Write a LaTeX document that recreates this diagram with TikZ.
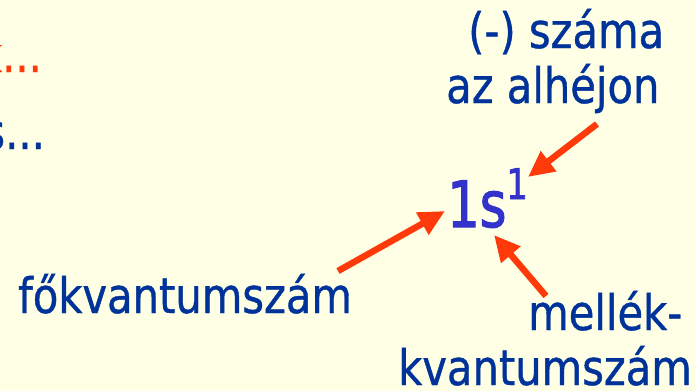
\documentclass[tikz,border=0pt]{standalone}
\usepackage{fontspec}
\setmainfont{DejaVu Sans}[FakeStretch=0.85,FakeBold=0.8]
\newfontfamily\symfont{DejaVu Sans}[FakeStretch=0.8,FakeBold=1.8]
\usetikzlibrary{arrows.meta}
\definecolor{bg}{HTML}{FFFFE6}
\definecolor{txt}{HTML}{003399}
\definecolor{sym}{HTML}{3333CC}
\definecolor{arr}{HTML}{FF3A0A}
\begin{document}
\begin{tikzpicture}[x=1pt,y=-1pt,
  lbl/.style={text=txt, font=\fontsize{49}{58}\selectfont, inner sep=0pt},
  pointer/.style={draw=arr, line width=6.5pt, -{Triangle[length=26pt,width=24pt]}}]
\useasboundingbox (0,0) rectangle (696,391);
\clip (0,0) rectangle (696,391);
\fill[bg] (0,0) rectangle (696,391);
% cut-off texts at the left
\node[lbl, text=arr, anchor=base east] (prevA) at (42,72) {k...};
\node[lbl, anchor=base east] (prevB) at (45,149) {s...};
% labels
\node[lbl, anchor=base west] (top1) at (468,48) {(-) száma};
\node[lbl, anchor=base west] (top2) at (446,103) {az alhéjon};
\node[lbl, anchor=base west] (fo) at (18,313) {főkvantumszám};
\node[lbl, anchor=base west] (mel1) at (528,330) {mellék-};
\node[lbl, anchor=base west] (mel2) at (398,385) {kvantumszám};
% symbol
\node[text=sym, font=\symfont\fontsize{64}{70}\selectfont, inner sep=0pt, anchor=base west] (sym) at (447,227)
  {1s\raisebox{28pt}{\fontsize{42}{44}\selectfont 1}};
% arrows
\coordinate (t1) at (338,271);
\coordinate (h1) at (445,211);
\coordinate (t2) at (597,124);
\coordinate (h2) at (528,177);
\coordinate (t3) at (546,296);
\coordinate (h3) at (494,235);
\draw[pointer] (t1) -- (h1);
\draw[pointer] (t2) -- (h2);
\draw[pointer] (t3) -- (h3);
\end{tikzpicture}
\end{document}
